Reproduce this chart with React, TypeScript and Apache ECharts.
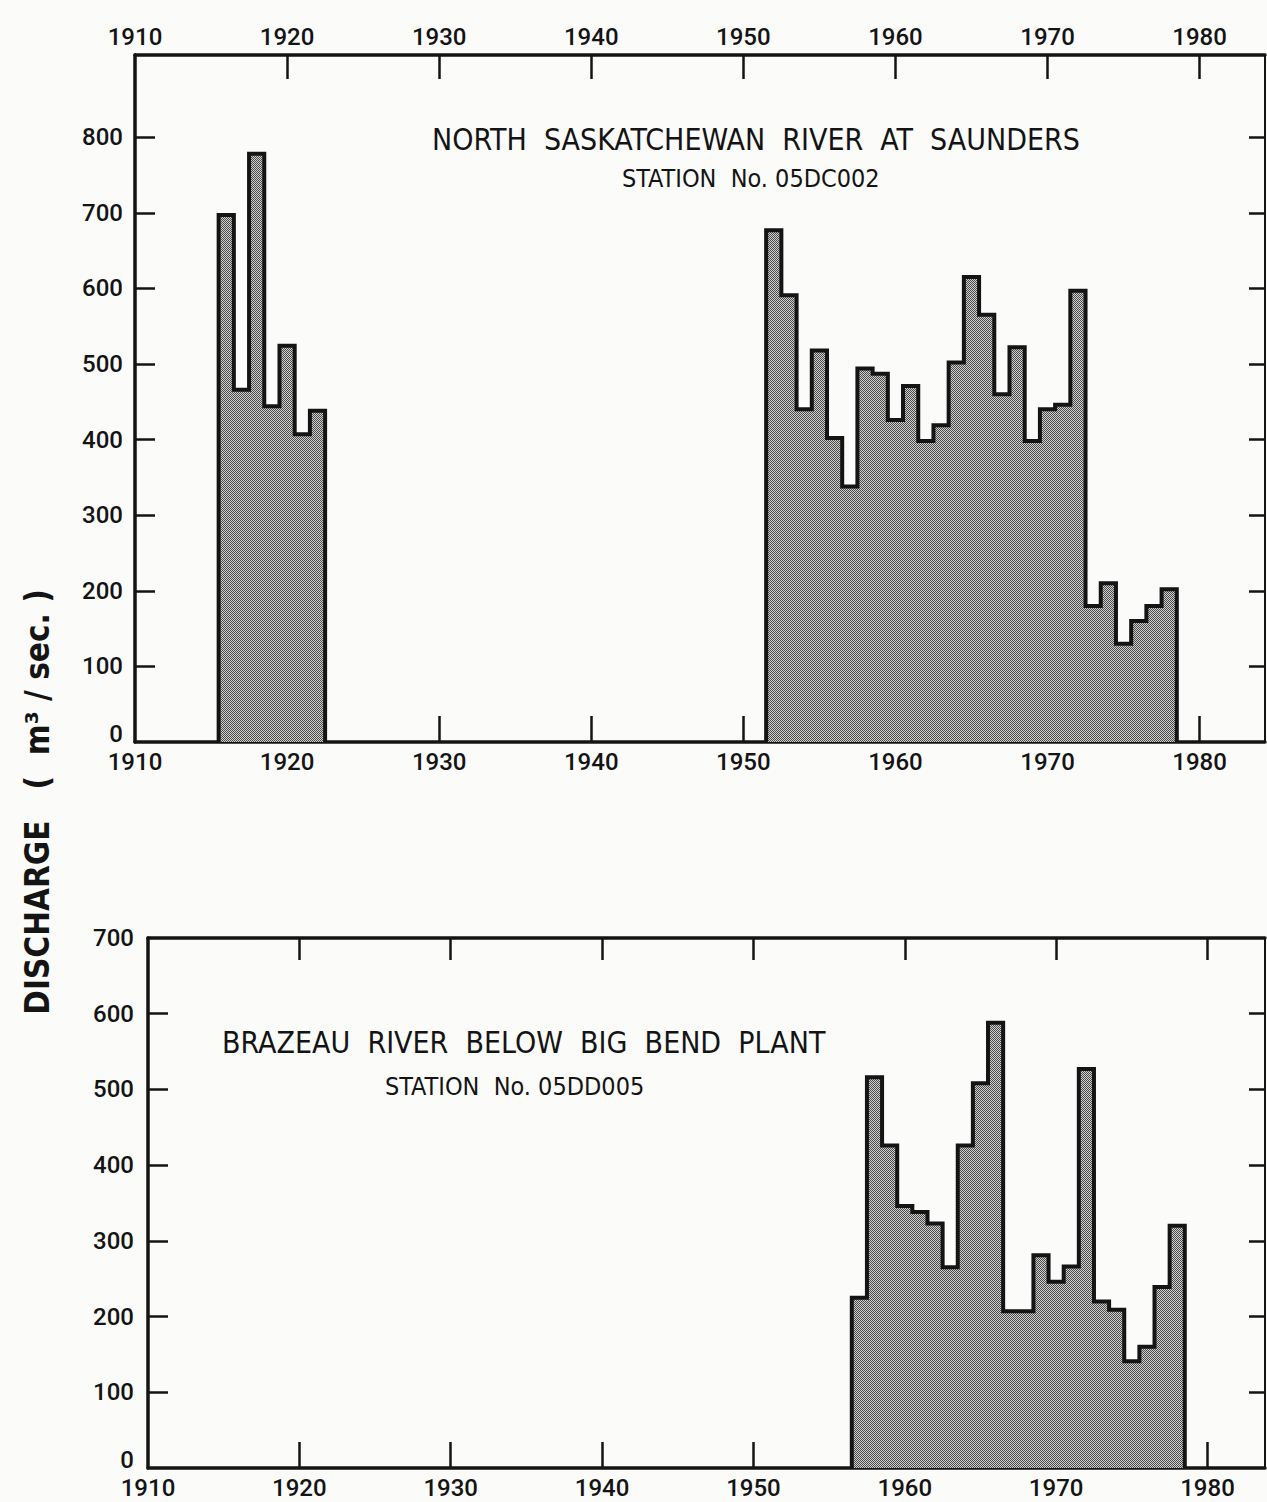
import React, { useEffect, useRef } from "react";
import * as echarts from "echarts";

// ---- Data (annual mean discharge, m3/s) ----
const nsrEarlyYears = [1916, 1917, 1918, 1919, 1920, 1921, 1922];
const nsrEarlyValues = [697, 466, 778, 444, 524, 407, 438];

const nsrLateYears = [
  1952, 1953, 1954, 1955, 1956, 1957, 1958, 1959, 1960, 1961, 1962, 1963, 1964, 1965,
  1966, 1967, 1968, 1969, 1970, 1971, 1972, 1973, 1974, 1975, 1976, 1977, 1978,
];
const nsrLateValues = [
  677, 591, 440, 518, 402, 338, 494, 487, 426, 471, 398, 419, 502, 615,
  565, 460, 522, 398, 440, 446, 597, 180, 210, 130, 160, 180, 202,
];

const brazeauYears = [
  1957, 1958, 1959, 1960, 1961, 1962, 1963, 1964, 1965, 1966, 1967, 1968, 1969, 1970,
  1971, 1972, 1973, 1974, 1975, 1976, 1977, 1978,
];
const brazeauValues = [
  225, 516, 426, 346, 338, 323, 265, 426, 508, 588, 207, 207, 281, 246,
  266, 527, 220, 209, 141, 160, 239, 320,
];

const yearLabels = [1910, 1920, 1930, 1940, 1950, 1960, 1970, 1980];
const yearTicks = [1920, 1930, 1940, 1950, 1960, 1970, 1980];
const topLabels = [0, 100, 200, 300, 400, 500, 600, 700, 800];
const topTicks = [100, 200, 300, 400, 500, 600, 700, 800];
const bottomLabels = [0, 100, 200, 300, 400, 500, 600, 700];
const bottomTicks = [100, 200, 300, 400, 500, 600];

const topTitle = "NORTH  SASKATCHEWAN  RIVER  AT  SAUNDERS";
const topSub = "STATION  No. 05DC002";
const bottomTitle = "BRAZEAU  RIVER  BELOW  BIG  BEND  PLANT";
const bottomSub = "STATION  No. 05DD005";
const yTitle = "DISCHARGE   (  m³ / sec. )";

// step outline of a histogram with yearly bins centred on each year
function outline(years: number[], values: number[]) {
  const pts: number[][] = [];
  pts.push([years[0] - 0.5, 0]);
  years.forEach((y, i) => {
    pts.push([y - 0.5, values[i]]);
    pts.push([y + 0.5, values[i]]);
  });
  pts.push([years[years.length - 1] + 0.5, 0]);
  return pts;
}

function stipple(): string {
  const c = document.createElement("canvas");
  c.width = 2;
  c.height = 2;
  const ctx = c.getContext("2d")!;
  ctx.fillStyle = "#cfcfcf";
  ctx.fillRect(0, 0, 2, 2);
  ctx.fillStyle = "#4c4c4c";
  ctx.fillRect(0, 0, 1, 1);
  ctx.fillRect(1, 1, 1, 1);
  return c.toDataURL();
}

const FONT = "DejaVu Sans Condensed";
const NUMFONT = "Roboto";
const INK = "#141414";

export default function App() {
  const ref = useRef<HTMLDivElement>(null);
  useEffect(() => {
    const chart = echarts.init(ref.current!, undefined, { renderer: "svg" });
    const pattern = { image: stipple(), repeat: "repeat" } as any;

    const labelStyle = {
      color: INK,
      fontFamily: NUMFONT,
      fontSize: 24,
      fontWeight: 500 as any,
    };
    const yearFmt = (v: number) => String(v);
    const valFmt = (v: number) => (v === 0 ? "{z|0}" : String(v));
    const zeroRich = {
      z: { padding: [0, 0, 16, 0], fontFamily: NUMFONT, fontSize: 24, fontWeight: 500, color: INK },
    };

    const xCommon = (gridIndex: number, max: number) => ({
      type: "value" as const,
      gridIndex,
      min: 1910,
      max,
      interval: 10,
      splitLine: { show: false },
      axisLine: { show: true, onZero: false, lineStyle: { color: INK, width: 3.5 } },
    });

    const histSeries = (xi: number, yi: number, years: number[], values: number[]) => ({
      type: "line" as const,
      xAxisIndex: xi,
      yAxisIndex: yi,
      data: outline(years, values),
      showSymbol: false,
      symbol: "none",
      lineStyle: { color: INK, width: 4, join: "miter" },
      areaStyle: { color: pattern, opacity: 1 },
      z: 3,
    });

    chart.setOption({
      animation: false,
      backgroundColor: "#fbfbfa",
      grid: [
        { left: 135, top: 55, width: 1130, height: 687 },
        { left: 148, top: 938, width: 1117, height: 530 },
      ],
      xAxis: [
        {
          ...xCommon(0, 1984.3),
          position: "bottom",
          axisTick: { show: true, inside: true, length: 26, customValues: yearTicks, lineStyle: { color: INK, width: 2.5 } },
          axisLabel: { ...labelStyle, margin: 8, customValues: yearLabels, formatter: yearFmt },
        },
        {
          ...xCommon(0, 1984.3),
          position: "top",
          axisTick: { show: true, inside: true, length: 24, customValues: yearTicks, lineStyle: { color: INK, width: 2.5 } },
          axisLabel: { ...labelStyle, margin: 6, customValues: yearLabels, formatter: yearFmt },
        },
        {
          ...xCommon(1, 1983.8),
          position: "bottom",
          axisTick: { show: true, inside: true, length: 26, customValues: yearTicks, lineStyle: { color: INK, width: 2.5 } },
          axisLabel: { ...labelStyle, margin: 8, customValues: yearLabels, formatter: yearFmt },
        },
        {
          ...xCommon(1, 1983.8),
          position: "top",
          axisTick: { show: true, inside: true, length: 22, customValues: yearTicks, lineStyle: { color: INK, width: 2.5 } },
          axisLabel: { show: false },
        },
      ],
      yAxis: [
        {
          type: "value",
          gridIndex: 0,
          position: "left",
          min: 0,
          max: 908.7,
          interval: 100,
          splitLine: { show: false },
          axisLine: { show: true, lineStyle: { color: INK, width: 3.5 } },
          axisTick: { show: true, inside: true, length: 20, customValues: topTicks, lineStyle: { color: INK, width: 2.5 } },
          axisLabel: { ...labelStyle, margin: 12, customValues: topLabels, formatter: valFmt, rich: zeroRich },
        },
        {
          type: "value",
          gridIndex: 0,
          position: "right",
          min: 0,
          max: 908.7,
          interval: 100,
          splitLine: { show: false },
          axisLine: { show: true, lineStyle: { color: INK, width: 2 } },
          axisTick: { show: true, inside: true, length: 16, customValues: topTicks, lineStyle: { color: INK, width: 2.5 } },
          axisLabel: { show: false },
        },
        {
          type: "value",
          gridIndex: 1,
          position: "left",
          min: 0,
          max: 700,
          interval: 100,
          splitLine: { show: false },
          axisLine: { show: true, lineStyle: { color: INK, width: 3.5 } },
          axisTick: { show: true, inside: true, length: 20, customValues: bottomTicks, lineStyle: { color: INK, width: 2.5 } },
          axisLabel: { ...labelStyle, margin: 14, customValues: bottomLabels, formatter: valFmt, rich: zeroRich },
        },
        {
          type: "value",
          gridIndex: 1,
          position: "right",
          min: 0,
          max: 700,
          interval: 100,
          splitLine: { show: false },
          axisLine: { show: true, lineStyle: { color: INK, width: 2 } },
          axisTick: { show: true, inside: true, length: 16, customValues: bottomTicks, lineStyle: { color: INK, width: 2.5 } },
          axisLabel: { show: false },
        },
      ],
      series: [
        histSeries(0, 0, nsrEarlyYears, nsrEarlyValues),
        histSeries(0, 0, nsrLateYears, nsrLateValues),
        histSeries(2, 2, brazeauYears, brazeauValues),
      ],
      graphic: [
        {
          type: "text",
          left: 432,
          top: 124,
          style: { text: topTitle, fill: INK, font: `30px '${FONT}'` },
          z: 10,
        },
        {
          type: "text",
          left: 622,
          top: 166,
          style: { text: topSub, fill: INK, font: `25px '${FONT}'` },
          z: 10,
        },
        {
          type: "text",
          left: 222,
          top: 1027,
          style: { text: bottomTitle, fill: INK, font: `30px '${FONT}'` },
          z: 10,
        },
        {
          type: "text",
          left: 385,
          top: 1074,
          style: { text: bottomSub, fill: INK, font: `25px '${FONT}'` },
          z: 10,
        },
        {
          type: "text",
          x: 37,
          y: 802,
          rotation: Math.PI / 2,
          style: {
            text: yTitle,
            fill: INK,
            font: `bold 33px '${FONT}'`,
            align: "center",
            verticalAlign: "middle",
          },
          z: 10,
        },
      ],
    });
    return () => chart.dispose();
  }, []);

  return (
    <div
      ref={ref}
      style={{ position: "absolute", left: 0, top: 0, width: 1267, height: 1502 }}
    />
  );
}
